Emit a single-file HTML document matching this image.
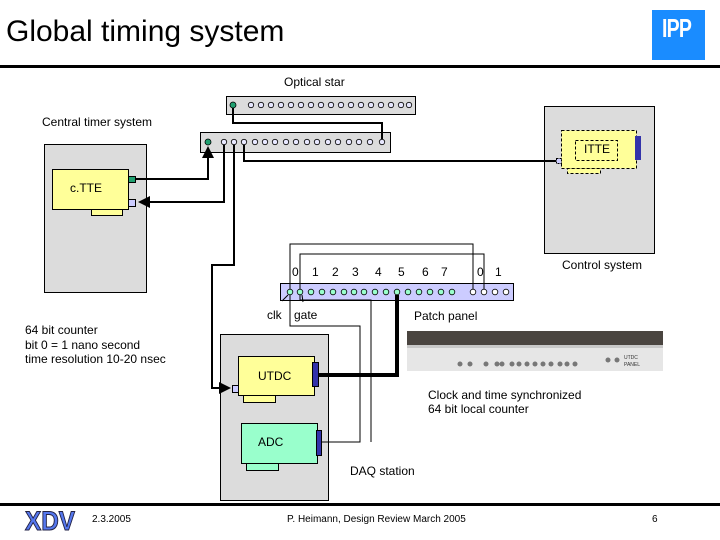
<!DOCTYPE html>
<html><head><style>
body{margin:0;width:720px;height:540px;background:#fff;position:relative;overflow:hidden;font-family:"Liberation Sans",sans-serif}
.t{position:absolute;font-size:12px;color:#000;white-space:nowrap;line-height:1}
</style></head><body>
<div class="t" style="left:6px;top:17px;font-size:30px">Global timing system</div>
<div style="position:absolute;left:652px;top:10px;width:53px;height:50px;background:#1a8cff"><div style="color:#fff;font:bold 26px 'Liberation Sans Narrow','Liberation Sans',sans-serif;position:absolute;left:10px;top:3px;transform:scaleX(0.75);transform-origin:left;letter-spacing:-1px">IPP</div></div>
<div style="position:absolute;left:0;top:65px;width:720px;height:3px;background:#000"></div>
<div style="position:absolute;left:0;top:503px;width:720px;height:3px;background:#000"></div>
<svg width="720" height="540" style="position:absolute;left:0;top:0" xmlns="http://www.w3.org/2000/svg">
<defs><marker id="a" markerWidth="6" markerHeight="6" refX="5" refY="3" orient="auto"><path d="M0,0L6,3L0,6z" fill="#000"/></marker></defs>
<rect x="44.5" y="144.5" width="102" height="148" fill="#dcdcdc" stroke="#000"/>
<rect x="544.5" y="106.5" width="110" height="147" fill="#dcdcdc" stroke="#000"/>
<rect x="220.5" y="334.5" width="108" height="166" fill="#dcdcdc" stroke="#000"/>
<rect x="91.5" y="209.5" width="31" height="6" fill="#ffff99" stroke="#000"/>
<rect x="52.5" y="169.5" width="76" height="40" fill="#ffff99" stroke="#000"/>
<rect x="128.5" y="176.5" width="7" height="6" fill="#20a070" stroke="#000"/>
<rect x="128.5" y="199.5" width="7" height="7" fill="#ccccff" stroke="#000"/>
<rect x="567.5" y="168.5" width="33" height="5" fill="#ffff99" stroke="#000" stroke-dasharray="3,2"/>
<rect x="561.5" y="130.5" width="75" height="38" fill="#ffff99" stroke="#000" stroke-dasharray="3,2"/>
<rect x="575.5" y="140.5" width="42" height="20" fill="none" stroke="#000" stroke-dasharray="3,2"/>
<rect x="635" y="136" width="6" height="24" fill="#3333aa"/>
<rect x="556.5" y="158.5" width="5" height="5" fill="#ccccff" stroke="#000" stroke-dasharray="2,1"/>
<rect x="243.5" y="395.5" width="32" height="7" fill="#ffff99" stroke="#000"/>
<rect x="238.5" y="356.5" width="76" height="39" fill="#ffff99" stroke="#000"/>
<rect x="312.5" y="362.5" width="6" height="24" fill="#3333aa" stroke="#000"/>
<rect x="232.5" y="385.5" width="6" height="7" fill="#ccccff" stroke="#000"/>
<rect x="246.5" y="463.5" width="32" height="7" fill="#99ffcc" stroke="#000"/>
<rect x="241.5" y="423.5" width="76" height="40" fill="#99ffcc" stroke="#000"/>
<rect x="316.5" y="430.5" width="5" height="25" fill="#3333aa" stroke="#000"/>
<rect x="226.5" y="96.5" width="189" height="18" fill="#dcdcdc" stroke="#000"/>
<rect x="200.5" y="132.5" width="190" height="20" fill="#dcdcdc" stroke="#000"/>
<rect x="280.5" y="283.5" width="233" height="17" fill="#ccccff" stroke="#000"/>
<g fill="#e8e8ff" stroke="#000" stroke-width="0.8">
<circle cx="251" cy="105" r="2.7"/><circle cx="261" cy="105" r="2.7"/><circle cx="271" cy="105" r="2.7"/><circle cx="281" cy="105" r="2.7"/><circle cx="291" cy="105" r="2.7"/><circle cx="301" cy="105" r="2.7"/><circle cx="311" cy="105" r="2.7"/><circle cx="321" cy="105" r="2.7"/><circle cx="331" cy="105" r="2.7"/><circle cx="341" cy="105" r="2.7"/><circle cx="351" cy="105" r="2.7"/><circle cx="361" cy="105" r="2.7"/><circle cx="371" cy="105" r="2.7"/><circle cx="381" cy="105" r="2.7"/><circle cx="391" cy="105" r="2.7"/><circle cx="401" cy="105" r="2.7"/><circle cx="409" cy="105" r="2.7"/>
<circle cx="224" cy="142" r="2.7"/><circle cx="234" cy="142" r="2.7"/><circle cx="244" cy="142" r="2.7"/><circle cx="255" cy="142" r="2.7"/><circle cx="265" cy="142" r="2.7"/><circle cx="275" cy="142" r="2.7"/><circle cx="286" cy="142" r="2.7"/><circle cx="296" cy="142" r="2.7"/><circle cx="307" cy="142" r="2.7"/><circle cx="317" cy="142" r="2.7"/><circle cx="328" cy="142" r="2.7"/><circle cx="338" cy="142" r="2.7"/><circle cx="349" cy="142" r="2.7"/><circle cx="359" cy="142" r="2.7"/><circle cx="370" cy="142" r="2.7"/><circle cx="382" cy="142" r="2.7"/>
</g>
<g fill="#99ffcc" stroke="#000" stroke-width="0.8">
<circle cx="290" cy="292" r="2.8"/><circle cx="300" cy="292" r="2.8"/><circle cx="311" cy="292" r="2.8"/><circle cx="322" cy="292" r="2.8"/><circle cx="333" cy="292" r="2.8"/><circle cx="344" cy="292" r="2.8"/><circle cx="354" cy="292" r="2.8"/><circle cx="364" cy="292" r="2.8"/><circle cx="375" cy="292" r="2.8"/><circle cx="386" cy="292" r="2.8"/><circle cx="397" cy="292" r="2.8"/><circle cx="408" cy="292" r="2.8"/><circle cx="419" cy="292" r="2.8"/><circle cx="430" cy="292" r="2.8"/><circle cx="441" cy="292" r="2.8"/><circle cx="452" cy="292" r="2.8"/>
</g>
<g fill="#fff" stroke="#000" stroke-width="0.8">
<circle cx="473" cy="292" r="2.8"/><circle cx="484" cy="292" r="2.8"/><circle cx="495" cy="292" r="2.8"/><circle cx="506" cy="292" r="2.8"/>
</g>
<circle cx="233" cy="105" r="3" fill="#20a070" stroke="#000" stroke-width="0.8"/>
<circle cx="208" cy="142" r="3" fill="#20a070" stroke="#000" stroke-width="0.8"/>
<g fill="none" stroke="#000" stroke-width="2">
<path d="M233,108V123H382V139"/>
<path d="M244,145V161H556"/>
<path d="M135,179H208V148" marker-end="url(#a)"/>
<path d="M224,145V202H140" marker-end="url(#a)"/>
<path d="M234,145V265H212V388H229" marker-end="url(#a)"/>
</g>
<path d="M397,295V375H318" fill="none" stroke="#000" stroke-width="4"/>
<g fill="none" stroke="#000" stroke-width="1">
<path d="M290,289V244H473V289"/>
<path d="M300,289V254H484V289"/>
<path d="M290,295V326H360V442H322"/>
<path d="M300,295V300H371V442"/>
<path d="M288,295L282,301M302,295L303,302"/>
</g>
<rect x="407" y="331" width="256" height="40" fill="#e6e6e6"/>
<rect x="407" y="331" width="256" height="14" fill="#4a4540"/>
<rect x="407" y="345" width="256" height="3" fill="#c8c8c8"/>
<g fill="#777">
<circle cx="460" cy="364" r="2.5"/><circle cx="470" cy="364" r="2.5"/><circle cx="486" cy="364" r="2.5"/><circle cx="497" cy="364" r="2.5"/><circle cx="502" cy="364" r="2.5"/><circle cx="512" cy="364" r="2.5"/><circle cx="519" cy="364" r="2.5"/><circle cx="527" cy="364" r="2.5"/><circle cx="535" cy="364" r="2.5"/><circle cx="543" cy="364" r="2.5"/><circle cx="551" cy="364" r="2.5"/><circle cx="560" cy="364" r="2.5"/><circle cx="567" cy="364" r="2.5"/><circle cx="575" cy="364" r="2.5"/><circle cx="608" cy="360" r="2.5"/><circle cx="617" cy="360" r="2.5"/>
</g>
<text x="624" y="359" font-size="5" font-family="Liberation Sans" fill="#333">UTDC</text>
<text x="624" y="366" font-size="5" font-family="Liberation Sans" fill="#333">PANEL</text>
</svg>
<div class="t" style="left:284px;top:76px">Optical star</div>
<div class="t" style="left:42px;top:116px">Central timer system</div>
<div class="t" style="left:70px;top:182px">c.TTE</div>
<div class="t" style="left:584px;top:143px">ITTE</div>
<div class="t" style="left:562px;top:259px">Control system</div>
<div class="t" style="left:292px;top:266px">0</div>
<div class="t" style="left:312px;top:266px">1</div><div class="t" style="left:332px;top:266px">2</div><div class="t" style="left:352px;top:266px">3</div><div class="t" style="left:375px;top:266px">4</div><div class="t" style="left:398px;top:266px">5</div><div class="t" style="left:422px;top:266px">6</div><div class="t" style="left:441px;top:266px">7</div><div class="t" style="left:477px;top:266px">0</div><div class="t" style="left:495px;top:266px">1</div>
<div class="t" style="left:267px;top:309px">clk</div>
<div class="t" style="left:294px;top:309px">gate</div>
<div class="t" style="left:414px;top:310px">Patch panel</div>
<div class="t" style="left:25px;top:323px;line-height:14.5px">64 bit counter<br>bit 0 = 1 nano second<br>time resolution 10-20 nsec</div>
<div class="t" style="left:258px;top:370px">UTDC</div>
<div class="t" style="left:258px;top:436px">ADC</div>
<div class="t" style="left:428px;top:388px;line-height:14px">Clock and time synchronized<br>64 bit local counter</div>
<div class="t" style="left:350px;top:465px">DAQ station</div>
<div class="t" style="left:25px;top:506px;font:bold 27px 'Liberation Sans',sans-serif;color:#5577ee;transform:scaleX(0.9);transform-origin:left;-webkit-text-stroke:1px #224">XDV</div>
<div class="t" style="left:92px;top:515px;font-size:10px">2.3.2005</div>
<div class="t" style="left:287px;top:515px;font-size:10px">P. Heimann, Design Review March 2005</div>
<div class="t" style="left:652px;top:515px;font-size:10px">6</div>
</body></html>
